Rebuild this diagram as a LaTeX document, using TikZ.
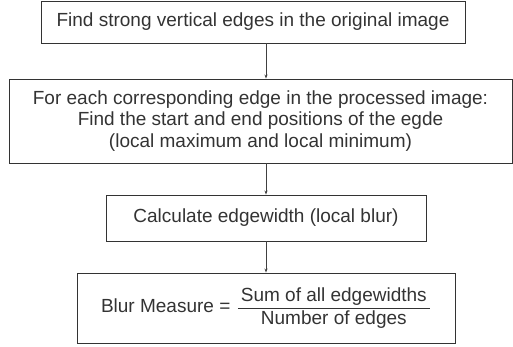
\documentclass[tikz,border=0pt]{standalone}
\usepackage{fontspec}
\usepackage{amsmath}
\setmainfont{Liberation Sans}
\usetikzlibrary{arrows.meta}
\begin{document}
\begin{tikzpicture}[x=1pt,y=-1pt,
  box/.style={draw=black!80, line width=0.9pt},
  txt/.style={font=\fontsize{19}{21.5}\selectfont, text=black!80, align=center, inner sep=0pt},
  arr/.style={draw=black!75, line width=0.8pt, -{Stealth[length=4pt,width=3pt]}}]
\useasboundingbox (0,0) rectangle (513,347);
\node[box, minimum width=424, minimum height=42, inner sep=0pt] (b1) at (253,22) {};
\node[txt] (t1) at (b1.center) {Find strong vertical edges in the original image};
\node[box, minimum width=503, minimum height=84, inner sep=0pt] (b2) at (260.5,121) {};
\node[txt] (t2) at (b2.center) {For each corresponding edge in the processed image:\\Find the start and end positions of the egde\\(local maximum and local minimum)};
\node[box, minimum width=320, minimum height=46, inner sep=0pt] (b3) at (266,218) {};
\node[txt] (t3) at (b3.center) {Calculate edgewidth (local blur)};
\node[box, minimum width=378, minimum height=70, inner sep=0pt] (b4) at (266,308) {};
\node[txt] (t4) at (b4.center) {Blur Measure = \hspace{1pt}$\dfrac{\hspace{3pt}\text{Sum of all edgewidths}\hspace{3pt}}{\text{Number of edges}}$};
\coordinate (a1s) at (266,43);
\draw[arr] (b1.south -| a1s) -- (b2.north -| a1s);
\draw[arr] (b2.south -| a1s) -- (b3.north -| a1s);
\draw[arr] (b3.south -| a1s) -- (b4.north -| a1s);
\end{tikzpicture}
\end{document}
